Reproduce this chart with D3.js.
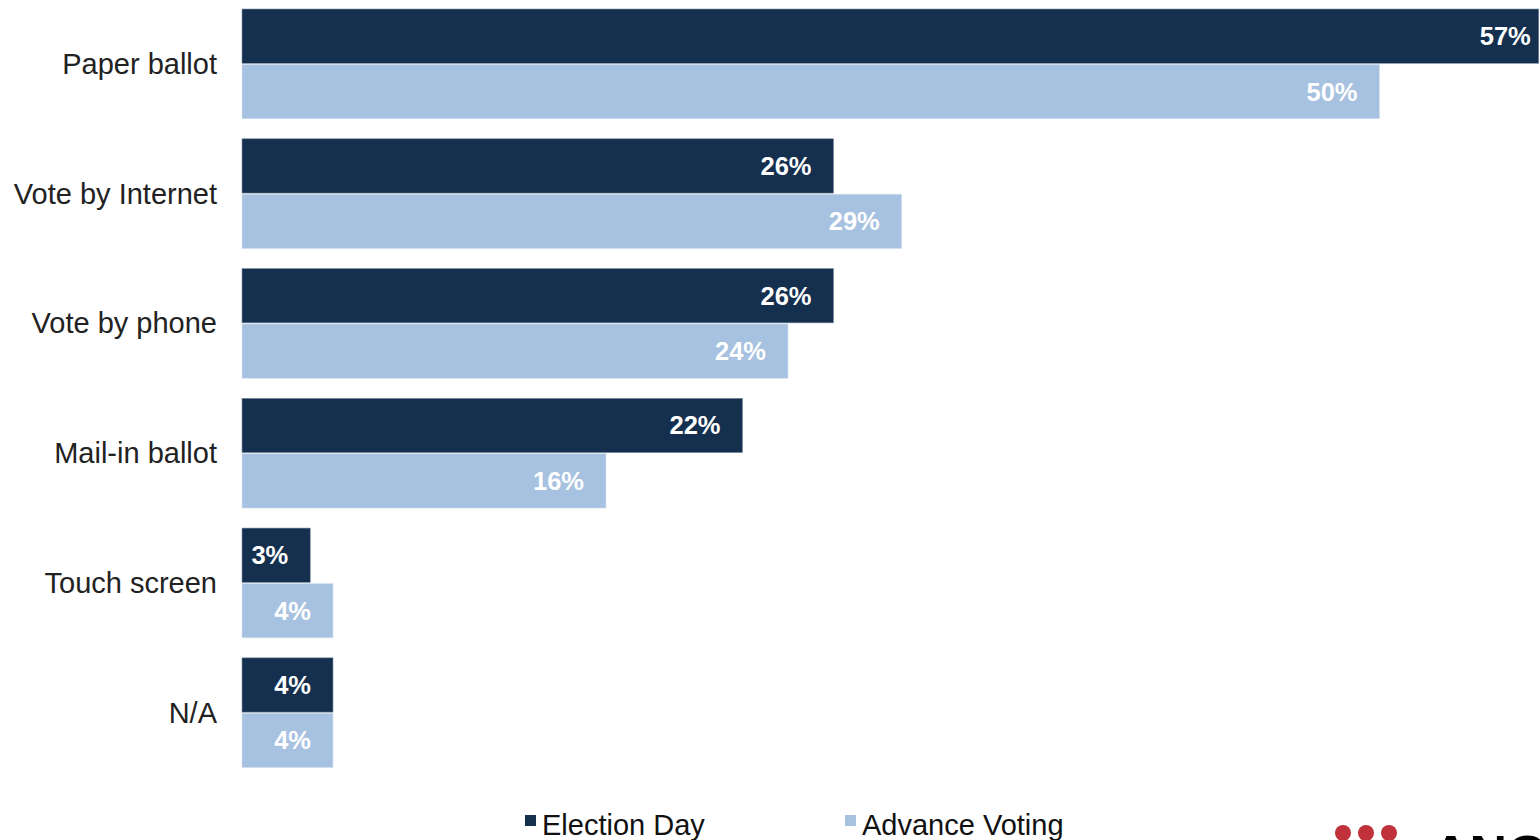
<!DOCTYPE html>
<html>
<head>
<meta charset="utf-8">
<script src="https://cdn.jsdelivr.net/npm/d3@7/dist/d3.min.js"></script>
<style>
  html, body { margin: 0; padding: 0; background: #fff; overflow: hidden; }
  svg { display: block; }
</style>
</head>
<body>
<svg id="chart" width="1540" height="840"></svg>
<script>
// Preferred voting method, by voting occasion (%)
const categories = ["Paper ballot", "Vote by Internet", "Vote by phone", "Mail-in ballot", "Touch screen", "N/A"];
const electionDay = [57, 26, 26, 22, 3, 4];
const advanceVoting = [50, 29, 24, 16, 4, 4];
const seriesNames = ["Election Day", "Advance Voting"];
const seriesColors = ["#15304f", "#a7c1e0"];

const svg = d3.select("#chart");
const left = 242;

const x = d3.scaleLinear().domain([0, 50]).range([left, 1379.5]);

const y = d3.scaleBand()
  .domain(categories)
  .range([-1, 777.6])
  .paddingInner(20 / 129.6)
  .paddingOuter(10 / 129.6);

const ySub = d3.scaleBand()
  .domain(seriesNames)
  .range([0, y.bandwidth()])
  .paddingInner(0.02);

const rows = categories.map((c, i) => ({
  cat: c,
  vals: [
    { s: seriesNames[0], v: electionDay[i], color: seriesColors[0] },
    { s: seriesNames[1], v: advanceVoting[i], color: seriesColors[1] }
  ]
}));

const groups = svg.selectAll("g.row")
  .data(rows)
  .join("g")
  .attr("class", "row")
  .attr("transform", d => `translate(0,${y(d.cat)})`);

groups.selectAll("rect")
  .data(d => d.vals)
  .join("rect")
  .attr("x", x(0))
  .attr("y", d => ySub(d.s))
  .attr("width", d => x(d.v) - x(0))
  .attr("height", ySub.bandwidth())
  .attr("fill", d => d.color)
  .attr("stroke", d => d.s === seriesNames[0] ? "#7f8fa3" : "#d6e2f0")
  .attr("stroke-width", 0.6);

groups.selectAll("text.val")
  .data(d => d.vals)
  .join("text")
  .attr("class", "val")
  .attr("x", d => x(d.v) - (d.v > 50 ? 8 : 22))
  .attr("y", d => ySub(d.s) + ySub.bandwidth() / 2 + 9)
  .attr("text-anchor", "end")
  .attr("fill", "#ffffff")
  .attr("font-family", "'Liberation Sans', Arial, sans-serif")
  .attr("font-weight", "bold")
  .attr("font-size", 25.5)
  .text(d => d.v + "%");

// category labels on the left
svg.append("g")
  .selectAll("text")
  .data(categories)
  .join("text")
  .attr("x", 217)
  .attr("y", d => y(d) + y.bandwidth() / 2 + 10)
  .attr("text-anchor", "end")
  .attr("fill", "#222")
  .attr("font-family", "'Liberation Sans', Arial, sans-serif")
  .attr("font-size", 29)
  .text(d => d);

// legend
const legendX = [525, 845];
const legend = svg.append("g")
  .selectAll("g")
  .data(seriesNames)
  .join("g")
  .attr("transform", (d, i) => `translate(${legendX[i]},0)`);
legend.append("rect")
  .attr("x", 0).attr("y", 815)
  .attr("width", 11).attr("height", 11)
  .attr("fill", (d, i) => seriesColors[i]);
legend.append("text")
  .attr("x", 17).attr("y", 835)
  .attr("fill", "#111")
  .attr("font-family", "'Liberation Sans', Arial, sans-serif")
  .attr("font-size", 29)
  .text(d => d);

// brand mark, bottom right
const dots = [1343, 1366, 1389];
svg.append("g")
  .selectAll("circle")
  .data(dots)
  .join("circle")
  .attr("cx", d => d)
  .attr("cy", 833)
  .attr("r", 8)
  .attr("fill", "#c0313a");
svg.append("text")
  .attr("x", 1432)
  .attr("y", 872)
  .attr("fill", "#000")
  .attr("font-family", "'Liberation Sans', Arial, sans-serif")
  .attr("font-weight", "bold")
  .attr("font-size", 52)
  .text("ANGUS REID");
</script>
</body>
</html>
